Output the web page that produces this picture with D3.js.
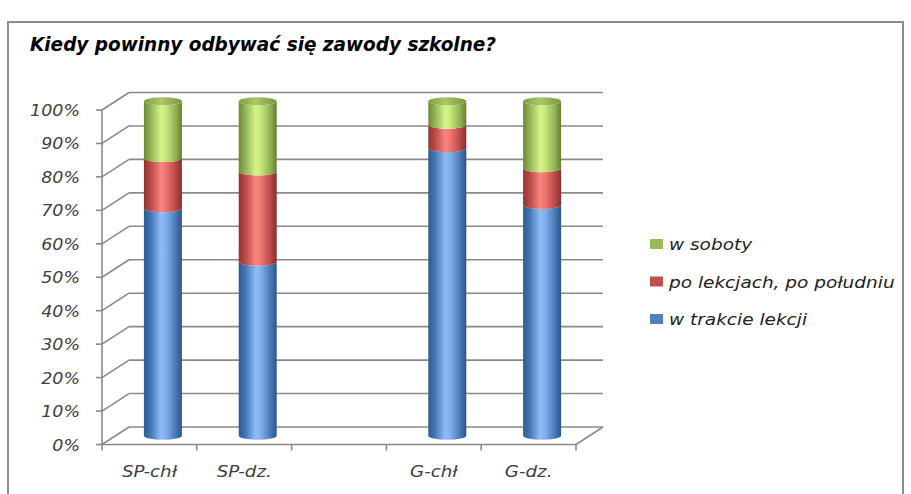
<!DOCTYPE html>
<html><head><meta charset="utf-8">
<script src="https://cdn.jsdelivr.net/npm/d3@7"></script>
<style>
html,body{margin:0;padding:0;background:#fff;}
svg{display:block;}
</style></head>
<body>
<svg id="chart" width="911" height="494"></svg>
<script>
const title = "Kiedy powinny odbywać się zawody szkolne?";
const categories = ["SP-chł", "SP-dz.", "", "G-chł", "G-dz."];
const seriesNames = ["w trakcie lekcji", "po lekcjach, po południu", "w soboty"];
const wTrakcieLekcji = [68, 52, null, 86, 69];
const poLekcjach = [15, 27, null, 7, 11];
const wSoboty = [17, 21, null, 7, 20];
const yTicks = [0, 10, 20, 30, 40, 50, 60, 70, 80, 90, 100];
const yTickLabels = ["0%", "10%", "20%", "30%", "40%", "50%", "60%", "70%", "80%", "90%", "100%"];

const svg = d3.select("#chart");
const defs = svg.append("defs");

function stretch(sel, f) {
  sel.each(function () {
    const w = this.getComputedTextLength();
    if (w > 0) d3.select(this).attr("textLength", w * f).attr("lengthAdjust", "spacingAndGlyphs");
  });
}

// frame
svg.append("rect").attr("x", 8).attr("y", 22).attr("width", 895).attr("height", 500)
  .attr("fill", "none").attr("stroke", "#8c8c8c").attr("stroke-width", 2);

svg.append("text").attr("x", 30).attr("y", 51)
  .attr("font-family", "'Liberation Sans Narrow', 'DejaVu Sans Condensed', sans-serif")
  .attr("font-weight", "bold").attr("font-style", "italic").attr("font-size", 19)
  .attr("textLength", 466).attr("lengthAdjust", "spacingAndGlyphs")
  .attr("fill", "#000").text(title);

const DX = 27, DY = -17.5;
const x = d3.scaleBand().domain(categories).range([102, 576]).padding(0);
const y = d3.scaleLinear().domain([0, 100]).range([444.5, 110]);

const grid = svg.append("g").attr("stroke", "#8a8a8a").attr("stroke-width", 1.6).attr("fill", "none");
yTicks.forEach(t => {
  grid.append("line").attr("x1", 102 + DX).attr("x2", 576 + DX)
    .attr("y1", y(t) + DY).attr("y2", y(t) + DY);
  grid.append("line").attr("x1", 102).attr("x2", 102 + DX)
    .attr("y1", y(t)).attr("y2", y(t) + DY);
  grid.append("line").attr("x1", 96).attr("x2", 102)
    .attr("y1", y(t)).attr("y2", y(t));
});
grid.append("line").attr("x1", 102).attr("x2", 102).attr("y1", y(100)).attr("y2", y(0));
grid.append("line").attr("x1", 102).attr("x2", 576).attr("y1", y(0)).attr("y2", y(0));
grid.append("line").attr("x1", 576).attr("x2", 576 + DX).attr("y1", y(0)).attr("y2", y(0) + DY);
const edges = categories.map(c => x(c)).concat([x(categories[categories.length - 1]) + x.bandwidth()]);
edges.forEach(e => {
  grid.append("line").attr("x1", e).attr("x2", e).attr("y1", y(0)).attr("y2", y(0) + 6);
});

// y tick labels
const yl = svg.append("g").selectAll("text").data(yTicks).join("text")
  .attr("x", 80).attr("y", d => y(d) + 6)
  .attr("text-anchor", "end")
  .attr("font-family", "'DejaVu Sans', Verdana, sans-serif").attr("font-style", "italic")
  .attr("font-size", 16).attr("fill", "#404040")
  .text((d, i) => yTickLabels[i]);
stretch(yl, 1.09);

// category labels
const cl = svg.append("g").selectAll("text").data(categories).join("text")
  .attr("x", d => x(d) + x.bandwidth() / 2).attr("y", 477)
  .attr("text-anchor", "middle")
  .attr("font-family", "'DejaVu Sans', Verdana, sans-serif").attr("font-style", "italic")
  .attr("font-size", 16).attr("fill", "#404040")
  .text(d => d);
stretch(cl, 1.14);

// gradients
const palettes = [
  {id: "gBlue", stops: ["#2f5b90", "#4577b5", "#8fbcf6", "#80afec", "#4676b3", "#2c5588"], flat: "#4F81BD"},
  {id: "gRed", stops: ["#8f3532", "#b94b48", "#fb8480", "#ee7571", "#b54744", "#86302d"], flat: "#C0504D"},
  {id: "gGreen", stops: ["#6e883a", "#93b556", "#d6f48c", "#c8e87b", "#8eae4f", "#647e33"], flat: "#9BBB59"}
];
const offs = [0, 0.18, 0.45, 0.58, 0.85, 1];
palettes.forEach(p => {
  const g = defs.append("linearGradient").attr("id", p.id).attr("x1", 0).attr("x2", 1).attr("y1", 0).attr("y2", 0);
  p.stops.forEach((s, i) => g.append("stop").attr("offset", offs[i]).attr("stop-color", s));
});
const cap = defs.append("linearGradient").attr("id", "gCap").attr("x1", 0).attr("x2", 1).attr("y1", 0).attr("y2", 0);
[["0", "#7f9c45"], ["0.45", "#a9c86a"], ["1", "#7a9540"]].forEach(s => cap.append("stop").attr("offset", s[0]).attr("stop-color", s[1]));

const series = [wTrakcieLekcji, poLekcjach, wSoboty];
const barW = 38, rx = barW / 2, ry = 4;
const bars = svg.append("g");
categories.forEach((c, i) => {
  if (series[0][i] == null) return;
  const cx = x(c) + x.bandwidth() / 2 + DX / 2;
  const xl = cx - rx, xr = cx + rx;
  let cum = 0;
  series.forEach((s, k) => {
    const v0 = cum, v1 = cum + s[i];
    cum = v1;
    const yb = y(v0) + DY / 2, yt = y(v1) + DY / 2;
    const path = `M${xl},${yt} L${xl},${yb} A${rx},${ry} 0 0 0 ${xr},${yb} L${xr},${yt} A${rx},${ry} 0 0 1 ${xl},${yt} Z`;
    bars.append("path").attr("d", path).attr("fill", `url(#${palettes[k].id})`);
  });
  const yTop = y(cum) + DY / 2;
  bars.append("ellipse").attr("cx", cx).attr("cy", yTop).attr("rx", rx).attr("ry", ry)
    .attr("fill", "url(#gCap)");
});

// legend
const legendItems = [2, 1, 0];
const lg = svg.append("g");
legendItems.forEach((k, j) => {
  const ly = 250 + j * 37.5;
  lg.append("rect").attr("x", 650).attr("y", ly - 11).attr("width", 13).attr("height", 10)
    .attr("fill", palettes[k].flat);
  lg.append("text").attr("x", 669).attr("y", ly)
    .attr("font-family", "'DejaVu Sans', Verdana, sans-serif").attr("font-style", "italic")
    .attr("font-size", 16).attr("fill", "#222").text(seriesNames[k]);
});
stretch(lg.selectAll("text"), 1.155);
</script>
</body></html>
